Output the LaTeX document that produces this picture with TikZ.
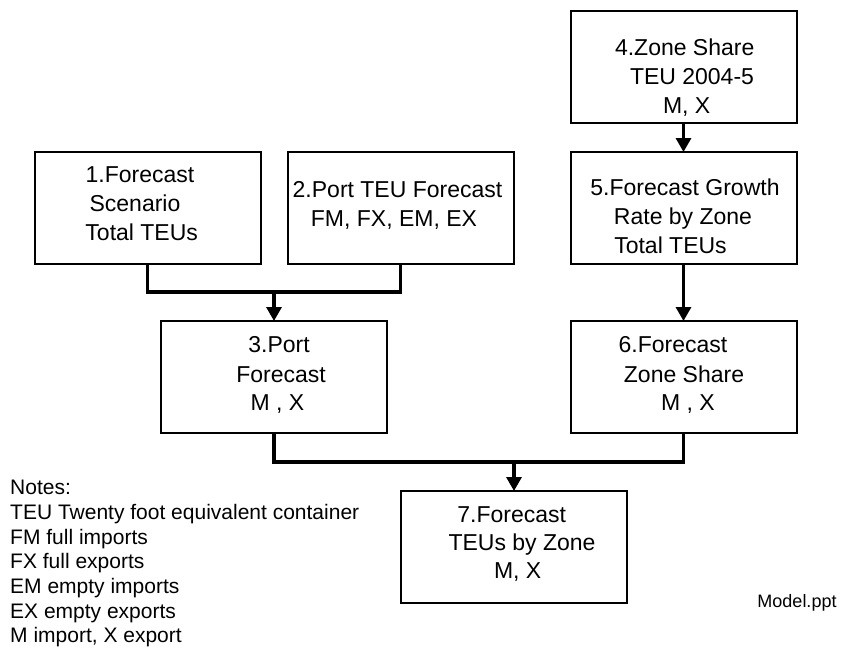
\documentclass[tikz,border=0pt]{standalone}
\usepackage{fontspec}
\setmainfont{Liberation Sans}
\usetikzlibrary{arrows.meta}
\begin{document}
\begin{tikzpicture}[x=1pt,y=-1pt,
  box/.style={draw=black, line width=2pt, minimum width=226pt, minimum height=112pt, inner sep=0pt, outer sep=0pt},
  bt/.style={anchor=base, inner sep=0pt, font=\fontsize{23}{28}\selectfont},
  notes/.style={anchor=north west, align=left, inner sep=0pt, font=\fontsize{21}{24.7}\selectfont},
  conn/.style={draw=black, line width=3.2pt, line join=miter},
  arr/.style={conn, -{Triangle[length=14pt,width=15pt]}}
]
\fill[white] (0,0) rectangle (841,651);
\useasboundingbox (0,0) rectangle (841,651);

% boxes
\node[box] (b1) at (147.85,208) {};
\node[box] (b2) at (400.5,208) {};
\node[box] (b3) at (274,377) {};
\node[box] (b4) at (683.5,67) {};
\node[box] (b5) at (683.5,208) {};
\node[box] (b6) at (683.5,377) {};
\node[box] (b7) at (514,547) {};

% box texts
\node[bt] (t1a) at (140,182) {1.Forecast};
\node[bt] (t1b) at (135,211) {Scenario};
\node[bt] (t1c) at (141.7,240.7) {Total TEUs};

\node[bt] (t2a) at (397.5,197) {2.Port TEU Forecast};
\node[bt] (t2b) at (394,226.7) {FM, FX, EM, EX};

\node[bt] (t4a) at (684.7,55) {4.Zone Share};
\node[bt] (t4b) at (692,84) {TEU 2004-5};
\node[bt] (t4c) at (686.7,113) {M, X};

\node[bt] (t5a) at (685,195) {5.Forecast Growth};
\node[bt] (t5b) at (683,224) {Rate by Zone};
\node[bt] (t5c) at (670.5,253) {Total TEUs};

\node[bt] (t3a) at (279,352) {3.Port};
\node[bt] (t3b) at (281,382) {Forecast};
\node[bt] (t3c) at (277.5,410) {M , X};

\node[bt] (t6a) at (673,352) {6.Forecast};
\node[bt] (t6b) at (684,382) {Zone Share};
\node[bt] (t6c) at (688,410) {M , X};

\node[bt] (t7a) at (511.7,522) {7.Forecast};
\node[bt] (t7b) at (522,550) {TEUs by Zone};
\node[bt] (t7c) at (517.7,578) {M, X};

% notes and file label
\node[notes] (nt) at (10,480) {Notes:\\TEU Twenty foot equivalent container\\FM full imports\\FX full exports\\EM empty imports\\EX empty exports\\M import, X export};
\node[anchor=base, inner sep=0pt, font=\fontsize{18}{20}\selectfont] (model) at (797,607) {Model.ppt};

% connectors
\coordinate (j12) at (274,292);
\draw[conn] (b1.south) |- (j12) -| (b2.south);
\draw[arr] (j12) -- (b3.north);
\draw[arr] (b4.south) -- (b5.north);
\draw[arr] (b5.south) -- (b6.north);
\coordinate (j36) at (514,462);
\draw[conn] (b3.south) |- (j36) -| (b6.south);
\draw[arr] (j36) -- (b7.north);
\end{tikzpicture}
\end{document}
